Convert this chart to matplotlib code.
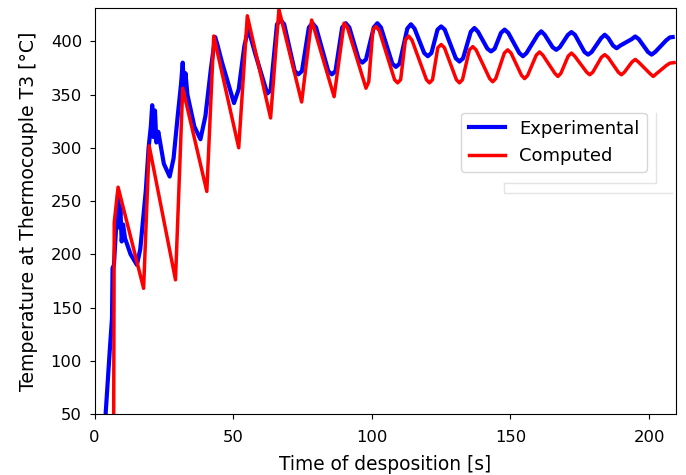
import matplotlib.pyplot as plt

# experimental trace (thermocouple T3)
exp_t = [4.0, 5.5, 6.3, 6.5, 7.0, 8.5, 9.0, 9.3, 9.8, 10.3, 11.0, 13.0, 15.3, 16.5, 18.5,
         19.5, 20.3, 20.8, 21.3, 21.8, 22.3, 23.0, 25.0, 27.1, 28.5, 30.0, 31.2, 31.8, 32.3,
         32.8, 33.5, 36.0, 38.2, 40.0, 42.0, 43.5, 44.2, 46.0, 50.3, 52.0, 54.0, 55.4,
         56.5, 58.0, 62.3, 63.5, 65.8, 67.1, 68.4, 72.2, 73.5, 74.8, 77.3, 78.6, 79.9,
         84.3, 85.6, 86.9, 89.3, 90.6, 91.9, 95.3, 96.6, 97.9, 100.7, 102.0, 103.3,
         107.4, 108.7, 110.0, 112.8, 114.1, 115.4, 118.9, 120.2, 121.5, 123.7, 125.0, 126.3,
         130.3, 131.6, 132.9, 135.7, 137.0, 138.3, 141.7, 143.0, 144.3, 146.6, 147.9, 149.2,
         153.2, 154.5, 155.8, 159.8, 161.1, 162.4, 165.2, 166.5, 167.8, 170.7, 172.0, 173.3,
         176.7, 178.0, 179.3, 182.7, 184.0, 185.3, 187.0, 188.3, 189.6, 193.7, 195.0, 196.3,
         199.6, 200.9, 202.2, 206.2, 207.5, 208.5]
exp_T = [50, 110, 140, 187, 190, 258, 225, 245, 212, 228, 215, 200, 190, 205, 260,
         300, 320, 340, 310, 335, 305, 315, 285, 273, 290, 330, 360, 380, 355,
         370, 350, 320, 308, 330, 375, 404, 398, 380, 342, 355, 395, 412,
         402, 388, 351, 354, 416, 420, 416, 372, 369, 372, 413, 417, 413,
         372, 369, 372, 413, 417, 413, 383, 380, 383, 413, 417, 413,
         379, 376, 379, 412, 416, 412, 389, 386, 389, 411, 414, 411,
         384, 381, 384, 409, 412.5, 409, 393, 390.5, 393, 408, 411, 408,
         389, 386, 389, 406, 409.4, 406, 394.5, 392, 394.5, 406, 408.7, 406,
         390, 387.5, 390, 403, 406.2, 403, 396, 393.5, 396, 402, 404.6, 402,
         390, 387.5, 390, 401, 403.7, 404]

# computed trace
sim_t = [6.9, 7.1, 8.5, 17.7, 19.7, 29.2, 31.8, 40.5, 43.0, 52.0, 55.1, 63.5, 66.5, 74.7,
         78.3, 86.4, 90.0, 91.2, 97.9, 98.9, 100.4, 101.5, 102.7, 108.2, 109.3, 110.4,
         112.1, 113.3, 114.5, 119.7, 120.8, 121.9, 123.8, 125.0, 126.2, 130.5, 131.6, 132.7,
         135.2, 136.4, 137.6, 142.5, 143.6, 144.7, 147.8, 149.0, 150.2, 154.0, 155.1, 156.2,
         159.3, 160.5, 161.7, 166.0, 167.1, 168.2, 170.8, 172.0, 173.2, 177.5, 178.6, 179.7,
         182.8, 184.0, 185.2, 188.9, 190.0, 191.1, 193.8, 195.0, 196.2, 200.4, 201.5, 202.6,
         206.3, 207.5, 209.0]
sim_T = [40, 230, 263, 168, 302, 176, 356, 259, 405, 300, 424, 328, 430, 343,
         420, 348, 417, 413, 356, 362, 411, 414, 410, 364, 361, 364,
         401, 405, 401, 364, 361, 364, 394, 397, 394, 364, 361, 364,
         392, 395, 392, 365, 362, 365, 389, 392, 389, 368, 365, 368,
         387, 390, 387, 370, 367, 370, 386, 389, 386, 371, 368.6, 371,
         385, 387.5, 385, 371, 368.6, 371, 380.5, 383, 380.5, 369.5, 367, 369.5,
         377.5, 379.5, 380]

fig = plt.figure(figsize=(6.86, 4.75), dpi=100)
ax = fig.add_axes([0.1378, 0.1284, 0.8476, 0.8541])

ax.plot(exp_t, exp_T, color='#0000ff', lw=3, label='Experimental')
ax.plot(sim_t, sim_T, color='#ff0000', lw=2.5, label='Computed')

ax.set_xlim(0, 209.7)
ax.set_ylim(50, 431)
ax.set_xticks([0, 50, 100, 150, 200])
ax.set_yticks([50, 100, 150, 200, 250, 300, 350, 400])
ax.tick_params(labelsize=11.8)
ax.tick_params(axis='x', pad=8)
ax.tick_params(axis='y', pad=5.5)
ax.set_xlabel('Time of desposition [s]', fontsize=13.4, labelpad=7)
ax.set_ylabel('Temperature at Thermocouple T3 [°C]', fontsize=13.6)
ax.yaxis.set_label_coords(-0.098, 0.5)

# faint box left over from the screenshot, under the legend
box_x = [0.704, 0.966, 0.966]
box_y = [0.570, 0.570, 0.742]
ax.plot(box_x, box_y, color='#e4e4e4', lw=1, transform=ax.transAxes, zorder=0)
ax.plot([0.704, 0.704, 0.993], [0.570, 0.545, 0.545], color='#e4e4e4', lw=1,
        transform=ax.transAxes, zorder=0)

ax.legend(loc='upper left', bbox_to_anchor=(0.631, 0.743), borderaxespad=0, fontsize=13)

plt.savefig('out.png', dpi=100)
